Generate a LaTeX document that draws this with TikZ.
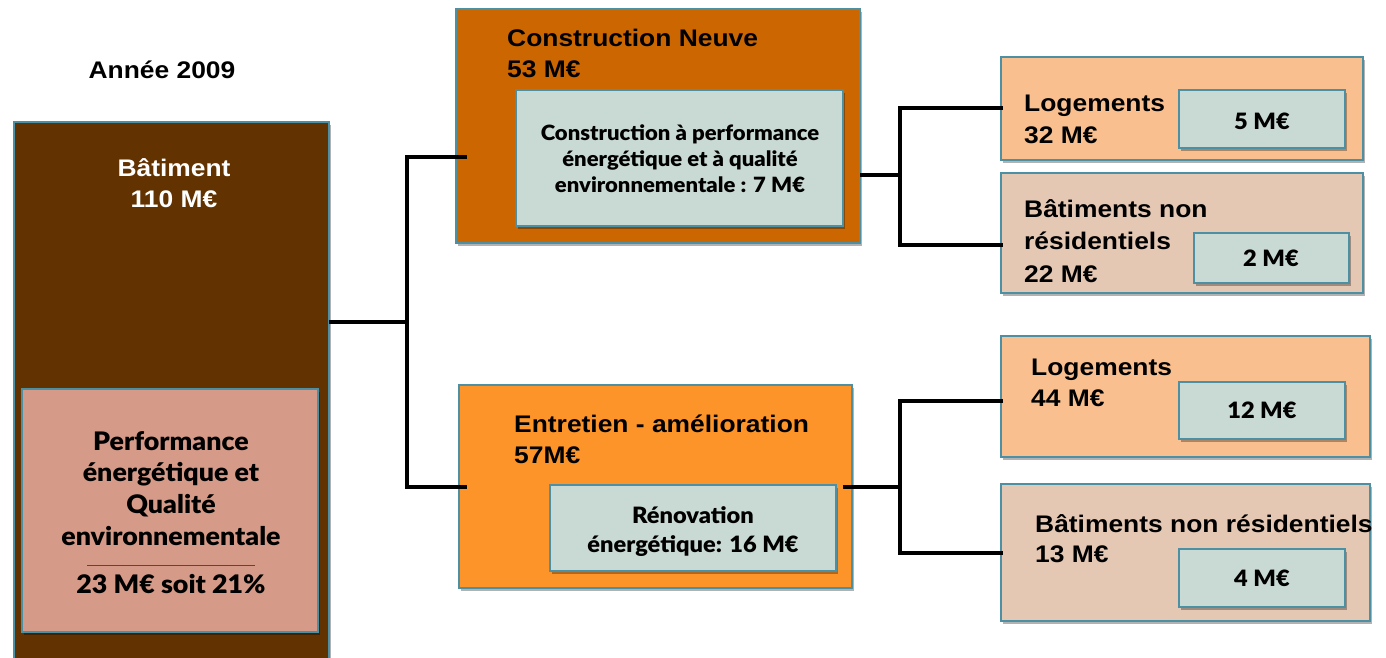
\documentclass[tikz,border=0pt]{standalone}
\usepackage{fontspec}
\setmainfont{Liberation Sans}[FakeStretch=1.1]
\newfontfamily\gillfam{Lato}[BoldFont={Lato Black},FakeStretch=1.05]
\usetikzlibrary{shadows}
\definecolor{bordc}{HTML}{4D90A4}
\definecolor{brownc}{HTML}{623200}
\definecolor{cnc}{HTML}{CC6600}
\definecolor{eac}{HTML}{FC9429}
\definecolor{logc}{HTML}{F9BF8F}
\definecolor{bnrc}{HTML}{E5C8B4}
\definecolor{tealc}{HTML}{C9D9D4}
\definecolor{pinkc}{HTML}{D59A88}
\newcommand\hdfont{\fontsize{24}{30}\selectfont\bfseries}
\newcommand\gsbig{\gillfam\fontsize{25.5}{32}\selectfont\bfseries}
\newcommand\gssmall{\gillfam\fontsize{21}{26}\selectfont\bfseries}
\newcommand\gsmid{\gillfam\fontsize{22.5}{28}\selectfont\bfseries}
\begin{document}
\begin{tikzpicture}[x=1pt,y=-1pt,
  box/.style={draw=bordc,line width=1.6pt,anchor=north west,inner sep=0,outer sep=0,
    drop shadow={shadow xshift=2pt,shadow yshift=-3pt,opacity=.3,fill=black}},
  txt/.style={inner sep=0,font=\hdfont,anchor=base west},
  ctxt/.style={inner sep=0,font=\hdfont,anchor=base},
  gtxt/.style={inner sep=0,font=\gssmall,anchor=base},
  mtxt/.style={inner sep=0,font=\gsmid,anchor=base},
  ptxt/.style={inner sep=0,font=\gsbig,anchor=base},
  conn/.style={line width=4.5pt,black}]
\useasboundingbox (0,0) rectangle (1386,658);
% boxes
\node[box,fill=brownc,minimum width=315pt,minimum height=570pt] (bat) at (14,122) {};
\node[box,fill=pinkc,minimum width=296pt,minimum height=243pt] (pk) at (22,389) {};
\node[box,fill=cnc,minimum width=404pt,minimum height=234pt] (cn) at (456,9) {};
\node[box,fill=tealc,minimum width=327pt,minimum height=136pt] (cni) at (516,90) {};
\node[box,fill=eac,minimum width=393pt,minimum height=203pt] (ea) at (459,385) {};
\node[box,fill=tealc,minimum width=286pt,minimum height=86pt] (ren) at (550,485) {};
\node[box,fill=logc,minimum width=362pt,minimum height=103pt] (log1) at (1001,57) {};
\node[box,fill=tealc,minimum width=166pt,minimum height=58pt] (in1) at (1179,90) {};
\node[box,fill=bnrc,minimum width=362pt,minimum height=120pt] (bnr1) at (1001,173) {};
\node[box,fill=tealc,minimum width=155pt,minimum height=50pt] (in2) at (1194,233) {};
\node[box,fill=logc,minimum width=369pt,minimum height=121pt] (log2) at (1001,336) {};
\node[box,fill=tealc,minimum width=166pt,minimum height=57pt] (in3) at (1179,382) {};
\node[box,fill=bnrc,minimum width=369pt,minimum height=137pt] (bnr2) at (1001,484) {};
\node[box,fill=tealc,minimum width=166pt,minimum height=58pt] (in4) at (1179,549) {};
% texts
\node[ctxt] (annee) at (162,79) {Année 2009};
\node[ctxt,text=white] (bt1) at (174,176) {Bâtiment};
\node[ctxt,text=white] (bt2) at (174,207) {110 M€};
\node[ptxt] (p1) at (171,450) {Performance};
\node[ptxt] (p2) at (171,481) {énergétique et};
\node[ptxt] (p3) at (171,513) {Qualité};
\node[ptxt] (p4) at (171,545) {environnementale};
\draw[black!70,line width=0.7pt] (87,565.5) -- (255,565.5);
\node[ptxt] (p5) at (171,593) {23 M€ soit 21\%};
\node[txt] (cn1) at (507,47) {Construction Neuve};
\node[txt] (cn2) at (507,78) {53 M€};
\node[gtxt] (ci1) at (680,140) {Construction à performance};
\node[gtxt] (ci2) at (680,166) {énergétique et à qualité};
\node[gtxt] (ci3) at (680,192) {environnementale : 7 M€};
\node[txt] (ea1) at (514,432) {Entretien - amélioration};
\node[txt] (ea2) at (514,463) {57M€};
\node[mtxt] (r1) at (693,523) {Rénovation};
\node[mtxt] (r2) at (693,552) {énergétique: 16 M€};
\node[txt] (l1a) at (1024,112) {Logements};
\node[txt] (l1b) at (1024,143) {32 M€};
\node[mtxt] at (1262,129) {5 M€};
\node[txt] (b1a) at (1024,217) {Bâtiments non};
\node[txt] (b1b) at (1024,249) {résidentiels};
\node[txt] (b1c) at (1024,282) {22 M€};
\node[mtxt] at (1271,266) {2 M€};
\node[txt] (l2a) at (1031,375) {Logements};
\node[txt] (l2b) at (1031,406) {44 M€};
\node[mtxt] at (1262,418) {12 M€};
\node[txt] (b2a) at (1035,532) {Bâtiments non résidentiels};
\node[txt] (b2b) at (1035,562) {13 M€};
\node[mtxt] at (1262,586) {4 M€};
% connectors
\coordinate (jL) at (407,322);
\coordinate (cnin) at (467,157);
\coordinate (eain) at (467,487);
\draw[conn] (bat.east |- jL) -- (jL);
\draw[conn] (cn.west |- cnin) -- (cnin);
\draw[conn] (cnin) -| (jL) |- (eain);
\coordinate (jR1) at (900,175);
\coordinate (l1in) at (1003,108);
\coordinate (b1in) at (1003,245);
\draw[conn] (cn.east |- jR1) -- (jR1);
\draw[conn] (l1in) -| (jR1) |- (b1in);
\coordinate (jR2) at (900,487);
\coordinate (l2in) at (1003,401);
\coordinate (b2in) at (1003,553);
\draw[conn] ([xshift=7pt]ren.east |- jR2) -- (jR2);
\draw[conn] (l2in) -| (jR2) |- (b2in);
\end{tikzpicture}
\end{document}
